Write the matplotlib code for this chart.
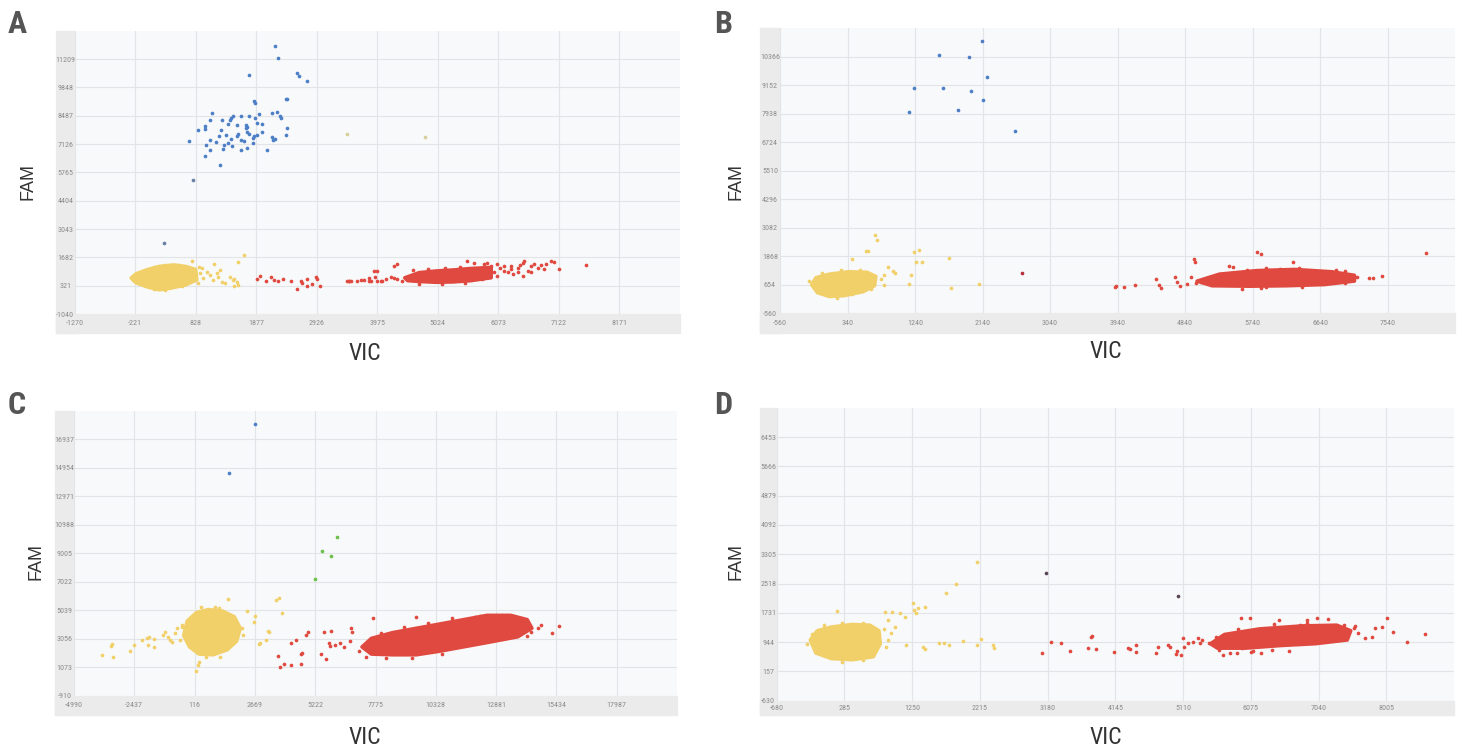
import matplotlib.pyplot as plt
import numpy as np
from matplotlib.patches import Rectangle

# ---- data ----
a_xticks = [-1270, -221, 828, 1877, 2926, 3975, 5024, 6073, 7122, 8171]
a_yticks = [-1040, 321, 1682, 3043, 4404, 5765, 7126, 8487, 9848, 11209]
b_xticks = [-560, 340, 1240, 2140, 3040, 3940, 4840, 5740, 6640, 7540]
b_yticks = [-560, 654, 1868, 3082, 4296, 5510, 6724, 7938, 9152, 10366]
c_xticks = [-4990, -2437, 116, 2669, 5222, 7775, 10328, 12881, 15434, 17987]
c_yticks = [-910, 1073, 3056, 5039, 7022, 9005, 10988, 12971, 14954, 16937]
d_xticks = [-680, 285, 1250, 2215, 3180, 4145, 5110, 6075, 7040, 8005]
d_yticks = [-630, 157, 944, 1731, 2518, 3305, 4092, 4879, 5666, 6453]

# panel A
a_blue = [(2206, 11832), (2258, 11238), (1756, 10435), (2592, 10515), (2621, 10403),
          (2753, 10146), (1843, 9199), (1854, 9103), (2390, 9312), (2419, 9312),
          (1110, 8622), (1082, 8301), (1283, 8268), (1427, 8268), (1439, 8397),
          (1468, 8461), (1612, 8461), (1698, 8033), (1727, 7954), (1698, 7872),
          (1756, 8461), (1860, 8397), (1929, 8589), (2160, 8620), (2235, 8670),
          (2286, 8461), (2304, 8397), (863, 7787), (989, 7979), (995, 7836),
          (1266, 7787), (1381, 8108), (1537, 8057), (1889, 8137), (1987, 8108),
          (2407, 7872), (1237, 7498), (1353, 7578), (1554, 7626), (1543, 7498),
          (1727, 7707), (1756, 7626), (1843, 7498), (1889, 7548), (1820, 7420),
          (1975, 7707), (2160, 7466), (2200, 7386), (2171, 7306), (2402, 7548),
          (1082, 7306), (1180, 7226), (1439, 7386), (1612, 7306), (1670, 7276),
          (707, 7258), (1007, 7097), (1324, 7097), (1381, 7178), (1451, 7017),
          (1082, 6824), (1295, 6905), (1612, 6856), (1727, 6952), (1814, 7177),
          (2073, 6856), (995, 6551), (1255, 6102)]
a_bluegray = [(776, 5382), (286, 2392)]
a_faint = [(3446, 7600), (4800, 7470)]
a_yellow_blob = [(-290, 690), (-200, 900), (0, 1100), (200, 1250), (450, 1320),
                 (650, 1250), (830, 1100), (850, 600), (650, 350), (400, 200),
                 (200, 120), (0, 250), (-200, 450)]
a_yellow = [(1151, 1367), (1497, 645), (1497, 324), (765, 1528), (1554, 1480),
            (1670, 1817), (904, 916), (962, 675), (1019, 996), (1077, 836),
            (1135, 595), (1192, 916), (1221, 755), (1250, 1076), (1279, 515),
            (1337, 435), (1424, 755), (1481, 595), (1550, 515), (1568, 355),
            (817, 595), (875, 435), (880, 1200), (940, 1150), (-250, 600),
            (-150, 880), (100, 1200), (300, 1330), (520, 1300), (700, 1230),
            (300, 100), (100, 160), (600, 300)]
a_red_blob = [(4450, 700), (4700, 950), (5000, 1030), (5300, 1080), (5600, 1150),
              (5950, 1200), (5950, 700), (5600, 560), (5300, 500), (5000, 480),
              (4700, 520), (4500, 560)]
a_red = [(1900, 645), (1941, 805), (2044, 565), (2142, 725), (2188, 597),
         (2257, 533), (2344, 645), (2477, 533), (2580, 163), (2650, 533),
         (2667, 436), (2765, 645), (2753, 324), (2851, 404), (2909, 757),
         (2926, 645), (2984, 324), (3456, 533), (3485, 533), (3629, 565),
         (3745, 597), (3831, 533), (3918, 1014), (3929, 725), (3975, 533),
         (4062, 533), (4119, 645), (4206, 725), (4263, 1287),
         (3483, 560), (3524, 560), (3697, 607), (3830, 671), (3871, 560),
         (3963, 1034), (4033, 560), (4264, 671), (4322, 639), (4409, 560),
         (4311, 1350), (5537, 1508), (5653, 1429), (5827, 1350), (5885, 1429),
         (5943, 1271), (6058, 1350), (6174, 1271), (6290, 1113), (6405, 1192),
         (6492, 1429), (6521, 1508), (6637, 1271), (6695, 1350), (6753, 1192),
         (6811, 1303), (6869, 1145), (6984, 1508), (7042, 1461), (7129, 1113),
         (7592, 1318), (5595, 639), (5711, 797), (5798, 639), (5885, 876),
         (6000, 955), (6058, 797), (6174, 1034), (6232, 955), (6319, 876),
         (6405, 987), (6492, 797), (6579, 1034), (6637, 955), (4600, 1050),
         (4850, 1120), (5150, 1150), (5400, 1200), (4700, 420), (5100, 380),
         (5500, 450), (6100, 1150), (6300, 1250), (6450, 1300), (6900, 1380)]

# panel B
b_blue = [(2135, 11040), (1563, 10441), (1955, 10356), (2197, 9515), (1221, 9045),
          (1619, 9045), (1992, 8902), (2153, 8503), (1165, 8004), (1818, 8090),
          (2576, 7192)]
b_yellow_blob = [(-140, 650), (-80, 950), (100, 1100), (350, 1200), (600, 1180),
                 (720, 1000), (700, 600), (550, 350), (300, 180), (100, 140),
                 (-60, 300)]
b_yellow = [(712, 2775), (730, 2533), (593, 2105), (618, 2105), (401, 1735),
            (886, 1421), (948, 1250), (979, 1136), (823, 637), (1227, 2062),
            (1290, 2134), (1259, 1606), (1339, 1635), (1184, 1065), (1165, 666),
            (1693, 1806), (1718, 495), (2097, 666), (780, 900), (820, 1050),
            (-180, 800), (0, 1150), (250, 1280), (500, 1260), (200, 60),
            (400, 250), (650, 450)]
b_dark = [(2663, 1136)]
b_red_blob = [(5000, 800), (5300, 1100), (5800, 1250), (6300, 1300), (6800, 1200),
              (7100, 1050), (7100, 800), (6700, 650), (6200, 600), (5700, 580),
              (5200, 600)]
b_red = [(3900, 538), (3918, 595), (4024, 566), (4167, 637), (4459, 879),
         (4490, 637), (4521, 495), (4708, 965), (4739, 780), (4770, 595),
         (4956, 1735), (4969, 1635), (4863, 680), (4925, 965), (5423, 1449),
         (5796, 2034), (5858, 1963), (6280, 1635), (6852, 1279), (6976, 1250),
         (7132, 965), (7287, 922), (7461, 1036), (7349, 922), (8052, 1991),
         (5485, 1421), (5671, 1279), (5920, 1350), (6106, 1307), (6355, 1350),
         (6541, 1250), (6666, 1207), (6790, 1165), (5920, 566), (6230, 709),
         (6603, 709), (6976, 709), (5236, 709), (5174, 922), (5049, 780),
         (4987, 709), (5600, 480), (5850, 520), (6400, 540)]

# panel C
c_blue = [(2689, 17978), (1564, 14617)]
c_green = [(6124, 10167), (5493, 9193), (5907, 8822), (5216, 7246)]
c_yellow_blob = [(-350, 3300), (-200, 4300), (200, 4900), (700, 5100), (1300, 5000),
                 (1800, 4600), (2050, 3800), (1900, 2900), (1500, 2300), (900, 1950),
                 (300, 2000), (-100, 2500)]
c_yellow = [(-3785, 1914), (-3430, 2564), (-3380, 2700), (-3331, 1822), (-2601, 2239),
            (-2463, 2633), (-2107, 2981), (-1910, 3096), (-1811, 3212), (-1614, 3027),
            (-1851, 2633), (-1614, 2517), (-1219, 3328), (-1120, 3560), (-1022, 3212),
            (-923, 2981), (-824, 2865), (-725, 3444), (-627, 3792), (-429, 3908),
            (1150, 5229), (1544, 5808), (2334, 4997), (2630, 4255), (2690, 4650),
            (3222, 3630), (3280, 3560), (2828, 2679), (2900, 2750), (3124, 2981),
            (3578, 5762), (3676, 5877), (3815, 4835), (1841, 4371), (2137, 3792),
            (262, 1242), (320, 1450), (163, 848), (-500, 3000), (-400, 4000),
            (400, 5250), (1000, 5300), (2150, 3300), (1200, 1800), (600, 1800)]
c_red_blob = [(7200, 2500), (7600, 3100), (8500, 3500), (9500, 3800), (10500, 4100),
              (11500, 4400), (12500, 4700), (13500, 4700), (14200, 4400), (14400, 3800),
              (13800, 3200), (12500, 2800), (11500, 2500), (10500, 2200), (9500, 1950),
              (8500, 1950), (7600, 2000)]
c_red = [(3657, 1868), (3716, 1126), (3913, 1312), (4209, 1242), (4604, 1289),
         (4209, 2795), (4407, 2981), (4604, 2007), (4663, 2100), (4841, 3328),
         (4900, 3560), (5453, 2007), (5690, 1636), (5591, 3514), (5888, 3630),
         (5789, 2749), (5848, 2564), (6045, 2633), (6282, 2749), (6440, 2517),
         (6677, 2934), (6717, 3792), (6776, 3560), (7072, 2239), (7368, 1822),
         (7664, 4487), (9480, 4603), (15264, 3444), (15560, 3954), (14770, 4023),
         (14672, 3792), (14376, 3560), (14179, 3259), (12007, 4556), (12204, 4650),
         (12400, 4500), (13547, 4185), (13780, 4300), (13981, 3908), (8000, 3500),
         (9000, 3900), (10000, 4150), (11000, 4500), (8200, 1750), (9300, 1750),
         (10600, 2000)]

# panel D
d_yellow_blob = [(-200, 1000), (-100, 1250), (100, 1350), (400, 1420), (650, 1400),
                 (780, 1250), (800, 900), (700, 550), (400, 470), (100, 500),
                 (-120, 650)]
d_yellow = [(183, 1789), (866, 1762), (965, 1762), (912, 1538), (945, 1180),
            (912, 1001), (879, 822), (1011, 1359), (1078, 1717), (1144, 1610),
            (1164, 866), (1263, 1986), (1276, 1806), (1310, 1717), (1340, 1850),
            (1442, 1896), (1409, 822), (1429, 750), (1641, 929), (1707, 911),
            (1774, 866), (1741, 2254), (1873, 2505), (1973, 983), (2171, 3105),
            (2238, 1028), (2171, 866), (2403, 866), (2423, 777), (-250, 900),
            (-180, 1150), (0, 1400), (250, 1450), (550, 1450), (850, 1300),
            (250, 420), (550, 450)]
d_dark = [(3152, 2791), (5035, 2182)]
d_red_blob = [(5500, 900), (5700, 1150), (6200, 1300), (6800, 1380), (7300, 1400),
              (7500, 1250), (7450, 1000), (7000, 900), (6500, 850), (6000, 780),
              (5600, 780)]
d_red = [(3099, 643), (3232, 938), (3378, 911), (3497, 714), (3762, 777),
         (3795, 1073), (3815, 1108), (3875, 750), (4127, 688), (4326, 777),
         (4359, 750), (4438, 866), (4438, 688), (4723, 643), (4757, 822),
         (4890, 866), (4922, 822), (5009, 625), (5023, 714), (5088, 598),
         (5121, 822), (5108, 1063), (5188, 911), (5254, 956), (5320, 1046),
         (5353, 911), (5387, 1001), (5486, 911), (5585, 1090), (5618, 732),
         (5685, 598), (5784, 643), (5884, 661), (5950, 777), (6082, 688),
         (6215, 643), (6381, 732), (6613, 714), (5930, 1601), (6069, 1601),
         (6480, 1538), (6878, 1466), (7024, 1601), (7176, 1565), (6778, 1404),
         (6878, 1538), (7276, 1359), (7408, 1404), (7554, 1377), (7541, 1314),
         (7608, 1180), (7706, 1046), (7806, 1091), (7839, 1314), (7939, 1359),
         (8018, 1583), (8104, 1225), (8303, 956), (8555, 1162), (5900, 1300),
         (6400, 1420), (6100, 700)]

# ---- style ----
YELLOW = '#f1d06a'
RED = '#e0493f'
BLUE = '#4d7fc6'
GREEN = '#6cc04c'
BAND = '#ebebeb'
FACE = '#f8f9fa'
GRID = '#e2e4e7'
COND = ['Roboto Condensed', 'Liberation Sans', 'DejaVu Sans']

W, H = 1460, 752
fig = plt.figure(figsize=(W / 100, H / 100), dpi=100)


def frac(x0, y0, x1, y1):
    return [x0 / W, 1 - y1 / H, (x1 - x0) / W, (y1 - y0) / H]


def dots(ax, pts, color, s=7, z=3):
    x, y = np.array(pts, dtype=float).T
    ax.scatter(x, y, s=s, c=color, linewidths=0, zorder=z)


def blob(ax, pts, color):
    x, y = np.array(pts, dtype=float).T
    ax.fill(x, y, color=color, lw=2.5, ec=color, zorder=2, joinstyle='round')


def panel(letter, plot_box, outer_box, xticks, yticks, letter_xy, fam_xy, vic_xy):
    x0, y0, x1, y1 = plot_box
    ox0, oy0, ox1, oy1 = outer_box
    # grey bands on left and bottom, kept behind the tick labels
    fig.patches.append(Rectangle((ox0 / W, 1 - oy1 / H), (x0 - ox0) / W, (oy1 - oy0) / H,
                                 transform=fig.transFigure, color=BAND, zorder=-1))
    fig.patches.append(Rectangle((ox0 / W, 1 - oy1 / H), (ox1 - ox0) / W, (oy1 - y1) / H,
                                 transform=fig.transFigure, color=BAND, zorder=-1))
    ax = fig.add_axes(frac(x0, y0, x1, y1))
    ax.set_facecolor(FACE)
    dx = xticks[1] - xticks[0]
    dy = yticks[1] - yticks[0]
    ax.set_xlim(xticks[0], xticks[0] + 10 * dx)
    ax.set_ylim(yticks[0], yticks[0] + 10 * dy)
    for s in ax.spines.values():
        s.set_visible(False)
    ax.set_xticks(xticks)
    ax.set_yticks(yticks)
    ax.set_xticklabels([str(v) for v in xticks])
    ax.set_yticklabels([str(v) for v in yticks])
    band_w = (x0 - ox0) * 0.72
    band_h = (oy1 - y1) * 0.72
    ax.tick_params(axis='x', length=0, pad=band_h / 2 - 2.2, labelsize=5.8,
                   labelcolor='#8c8c8c')
    ax.tick_params(axis='y', length=0, pad=band_w / 2, labelsize=5.8,
                   labelcolor='#8c8c8c')
    for t in ax.get_xticklabels() + ax.get_yticklabels():
        t.set_family(COND)
    for t in ax.get_yticklabels():
        t.set_horizontalalignment('center')
    ax.grid(True, color=GRID, lw=0.8, zorder=0)
    ax.set_axisbelow(True)
    fig.text(letter_xy[0] / W, 1 - letter_xy[1] / H, letter, fontsize=23,
             fontweight='bold', color='#555555', ha='center', va='center',
             family=COND)
    fig.text(fam_xy[0] / W, 1 - fam_xy[1] / H, 'FAM', fontsize=13, rotation=90,
             color='#333333', ha='center', va='center', family='Liberation Sans')
    fig.text(vic_xy[0] / W, 1 - vic_xy[1] / H, 'VIC', fontsize=17,
             color='#333333', ha='center', va='center', family=COND)
    return ax


ax = panel('A', (74.5, 30.7, 680, 314), (56, 30.7, 680, 333), a_xticks, a_yticks,
           (17, 24), (28, 182), (365, 353))
blob(ax, a_yellow_blob, YELLOW)
blob(ax, a_red_blob, RED)
dots(ax, a_yellow, YELLOW)
dots(ax, a_red, RED)
dots(ax, a_blue, BLUE)
dots(ax, a_bluegray, '#6a80a8')
dots(ax, a_faint, '#d9cf9a')

ax = panel('B', (780, 28.3, 1455, 313), (760, 28.3, 1455, 333), b_xticks, b_yticks,
           (723, 24), (736, 182), (1106, 351))
blob(ax, b_yellow_blob, YELLOW)
blob(ax, b_red_blob, RED)
dots(ax, b_yellow, YELLOW)
dots(ax, b_red, RED)
dots(ax, b_blue, BLUE)
dots(ax, b_dark, '#b0313a')

ax = panel('C', (74, 410.7, 677, 696), (55, 410.7, 677, 715), c_xticks, c_yticks,
           (17, 405), (36, 561), (365, 737))
blob(ax, c_yellow_blob, YELLOW)
blob(ax, c_red_blob, RED)
dots(ax, c_yellow, YELLOW)
dots(ax, c_red, RED)
dots(ax, c_blue, BLUE)
dots(ax, c_green, GREEN)

ax = panel('D', (776.5, 407.7, 1454, 700.7), (760, 407.7, 1454, 715), d_xticks, d_yticks,
           (723, 405), (736, 561), (1106, 737))
blob(ax, d_yellow_blob, YELLOW)
blob(ax, d_red_blob, RED)
dots(ax, d_yellow, YELLOW)
dots(ax, d_red, RED)
dots(ax, d_dark, '#5a4658')

fig.savefig('out.png', dpi=100, facecolor='white')
